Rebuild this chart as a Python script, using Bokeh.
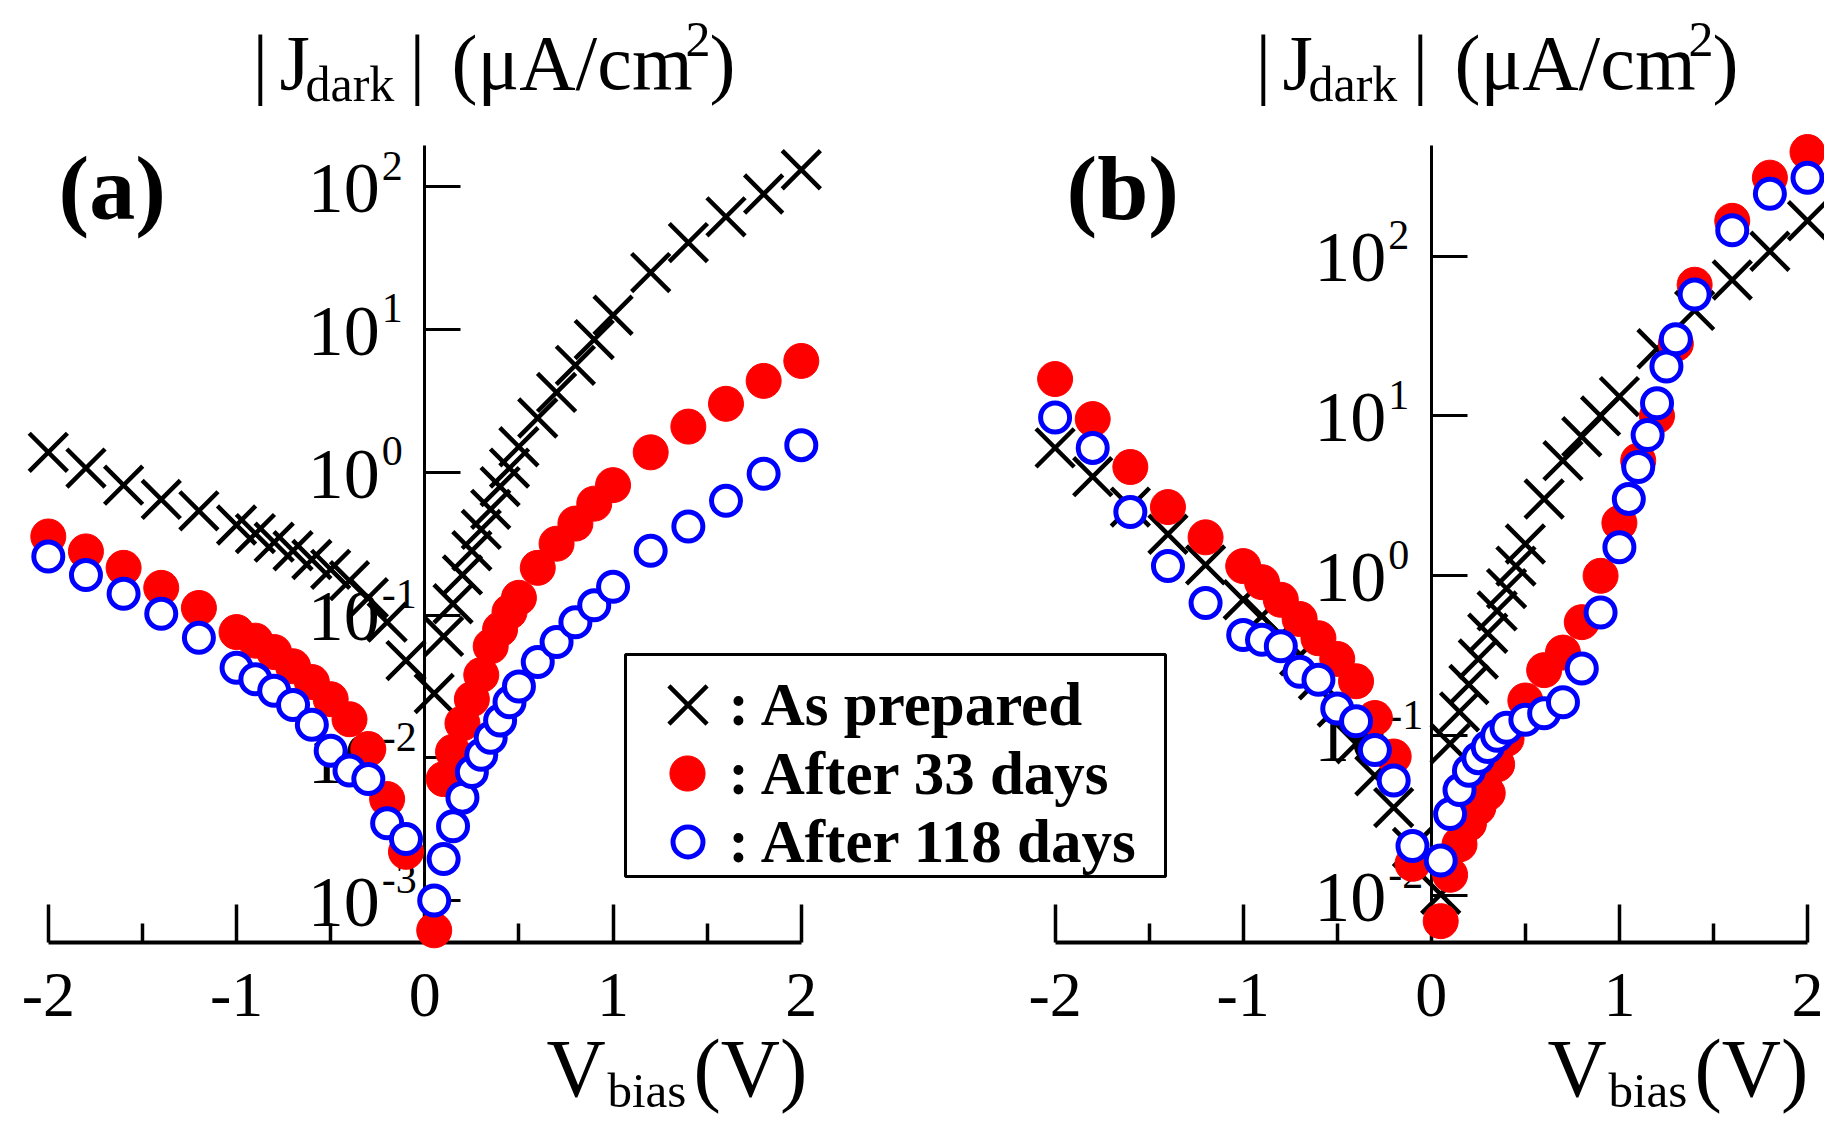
from bokeh.plotting import figure
from bokeh.models import (Range1d, LinearAxis, LogAxis, FixedTicker, Label, Legend,
                          LegendItem, CustomJSTickFormatter, BoxAnnotation)
from bokeh.core.properties import value
from bokeh.embed import file_html
from bokeh.resources import INLINE

# ---------------- data (|J_dark| in uA/cm^2 vs V_bias in V) ----------------
v_left = [-2.0, -1.8, -1.6, -1.4, -1.2, -1.0, -0.9, -0.8, -0.7, -0.6, -0.5, -0.4, -0.3, -0.2, -0.1]

# panel (a)
a_bias = v_left + [0.05, 0.1, 0.15, 0.2, 0.25, 0.3, 0.35, 0.4, 0.45, 0.5,
                   0.6, 0.7, 0.8, 0.9, 1.0, 1.2, 1.4, 1.6, 1.8, 2.0]
a_prepared = [1.38, 1.07, 0.813, 0.646, 0.537, 0.427, 0.372, 0.324, 0.282, 0.245,
              0.209, 0.174, 0.132, 0.0891, 0.0479,
              0.0282, 0.0708, 0.120, 0.191, 0.282, 0.398, 0.550, 0.794, 1.07, 1.51,
              2.40, 3.63, 5.62, 8.51, 12.6, 25.1, 40.7, 61.7, 89.1, 132]
a_33days = [0.355, 0.279, 0.214, 0.155, 0.112, 0.0759, 0.0661, 0.0550, 0.0437, 0.0339,
            0.0257, 0.0186, 0.0115, 0.00513, 0.00219,
            0.000617, 0.00708, 0.0110, 0.0174, 0.0257, 0.0380, 0.0603, 0.0794, 0.105, 0.132,
            0.214, 0.316, 0.437, 0.603, 0.813, 1.38, 2.09, 3.02, 4.37, 6.03]
a_118days = [0.257, 0.191, 0.141, 0.102, 0.0692, 0.0427, 0.0355, 0.0295, 0.0234, 0.0170,
             0.0112, 0.00813, 0.00708, 0.00347, 0.00269,
             0.00100, 0.00195, 0.00331, 0.00525, 0.00794, 0.0105, 0.0138, 0.0182, 0.0245, 0.0316,
             0.0468, 0.0646, 0.0891, 0.117, 0.158, 0.282, 0.417, 0.631, 0.977, 1.55]

# panel (b)
b_prepared_bias = v_left + [0.05, 0.1, 0.15, 0.2, 0.25, 0.3, 0.35, 0.4, 0.45, 0.5,
                            0.6, 0.7, 0.8, 0.9, 1.0, 1.2, 1.4, 1.6, 1.8, 2.0]
b_prepared = [6.31, 4.17, 2.69, 1.82, 1.17, 0.708, 0.562, 0.427, 0.316, 0.224,
              0.151, 0.0891, 0.0562, 0.0355, 0.0200,
              0.0102, 0.0891, 0.141, 0.209, 0.302, 0.437, 0.603, 0.832, 1.15, 1.58,
              3.02, 5.25, 7.41, 10.0, 13.2, 26.3, 45.7, 70.8, 107, 166]
b_33days_bias = v_left + [0.05, 0.1, 0.15, 0.2, 0.25, 0.3, 0.35, 0.4, 0.5, 0.6, 0.7,
                          0.8, 0.9, 1.0, 1.1, 1.2, 1.3, 1.4, 1.6, 1.8, 2.0]
b_33days = [17.0, 9.55, 4.79, 2.69, 1.74, 1.15, 0.912, 0.708, 0.537, 0.407,
            0.302, 0.219, 0.129, 0.0741, 0.0158,
            0.00692, 0.0135, 0.0209, 0.0282, 0.0355, 0.0437, 0.0661, 0.0955, 0.166, 0.257,
            0.331, 0.513, 1.00, 2.14, 5.25, 10.0, 28.2, 66.1, 166, 309, 447]
b_118days_bias = v_left + [0.05, 0.1, 0.15, 0.2, 0.25, 0.3, 0.35, 0.4, 0.5, 0.6, 0.7, 0.8,
                           0.9, 1.0, 1.05, 1.1, 1.15, 1.2, 1.25, 1.3, 1.4, 1.6, 1.8, 2.0]
b_118days = [9.77, 6.31, 2.51, 1.15, 0.676, 0.427, 0.398, 0.363, 0.251, 0.224,
             0.148, 0.123, 0.0813, 0.0525, 0.0204,
             0.0166, 0.0324, 0.0457, 0.0603, 0.0724, 0.0851, 0.100, 0.112, 0.126, 0.138,
             0.162, 0.263, 0.589, 1.51, 3.02, 4.79, 7.59, 12.0, 20.4, 30.2, 57.5, 145, 245, 309]

x_ticks = [-2, -1, 0, 1, 2]
x_tick_labels = ["-2", "-1", "0", "1", "2"]
x_minor_ticks = [-1.5, -0.5, 0.5, 1.5]
ya_ticks = [100, 10, 1, 0.1, 0.01, 0.001]
ya_exponents = ["2", "1", "0", "-1", "-2", "-3"]
yb_ticks = [100, 10, 1, 0.1, 0.01]
yb_exponents = ["2", "1", "0", "-1", "-2"]
legend_labels = [": As prepared", ": After 33 days", ": After 118 days"]

# ---------------- layout (screenshot pixels) ----------------
W, H = 1824, 1120
OFF = 0
ML, MB = 0, 0
FL, FR, FT, FB = OFF + ML, OFF + W, OFF, OFF + H - MB
FONT = "Liberation Serif"
BL = 0.3375  # alphabetic-baseline correction (fraction of font size)

PA = dict(x0=424.3, sx=188.25, y2=186.4, dy=142.7, title=252, vlab=546)
PB = dict(x0=1430.8, sx=188.1, y2=255.5, dy=159.9, title=1255, vlab=1547)
AXIS_Y = 941.5
YAXIS_TOP = 145


def xr(g):
    return Range1d((FL - g["x0"]) / g["sx"], (FR - g["x0"]) / g["sx"])


def ydat(g, py):
    return 10 ** (2 - (py - g["y2"]) / g["dy"])


def yr(g):
    return Range1d(ydat(g, FB), ydat(g, FT))


p = figure(width=W, height=H, x_range=xr(PA), y_range=yr(PA), y_axis_type="log",
           output_backend="svg", toolbar_location=None,
           min_border_left=ML, min_border_right=0, min_border_top=0, min_border_bottom=MB,
           background_fill_color="white", border_fill_color="white")
p.outline_line_color = None
p.extra_x_ranges = {"xb": xr(PB)}
p.extra_y_ranges = {"yb": yr(PB)}
p.xgrid.visible = False
p.ygrid.visible = False

blank = CustomJSTickFormatter(code="return ''")

xa_axis = p.xaxis[0]
ya_axis = p.yaxis[0]
xb_axis = LinearAxis(x_range_name="xb", y_range_name="yb")
yb_axis = LogAxis(x_range_name="xb", y_range_name="yb")
p.add_layout(xb_axis, "below")
p.add_layout(yb_axis, "left")

for ax, g in ((xa_axis, PA), (xb_axis, PB)):
    ax.ticker = FixedTicker(ticks=x_ticks, minor_ticks=x_minor_ticks)
    ax.formatter = blank
    ax.bounds = (-2, 2)
    ax.fixed_location = ydat(g, AXIS_Y)
    ax.axis_line_width = 4
    ax.axis_line_color = "black"
    ax.major_tick_in = 38
    ax.major_tick_out = 0
    ax.minor_tick_in = 19
    ax.minor_tick_out = 0
    ax.major_tick_line_width = 3.5
    ax.minor_tick_line_width = 3.5
    ax.major_tick_line_color = "black"
    ax.minor_tick_line_color = "black"
    ax.major_label_text_font_size = "0px"
    ax.major_label_standoff = 0

for ax, g, ticks in ((ya_axis, PA, ya_ticks), (yb_axis, PB, yb_ticks)):
    ax.ticker = FixedTicker(ticks=ticks, minor_ticks=[])
    ax.formatter = blank
    ax.bounds = (ydat(g, AXIS_Y), ydat(g, YAXIS_TOP))
    ax.fixed_location = 0
    ax.axis_line_width = 3
    ax.axis_line_color = "black"
    ax.major_tick_in = 36
    ax.major_tick_out = 0
    ax.minor_tick_in = 0
    ax.minor_tick_out = 0
    ax.major_tick_line_width = 3
    ax.major_tick_line_color = "black"
    ax.major_label_text_font_size = "0px"
    ax.major_label_standoff = 0

# ---------------- tick labels (drawn under the markers) ----------------
for g, rx, ry, ticks, exps in ((PA, "default", "default", ya_ticks, ya_exponents),
                               (PB, "xb", "yb", yb_ticks, yb_exponents)):
    n = len(ticks)
    p.text(x=[0] * n, y=ticks, text=["10"] * n, x_range_name=rx, y_range_name=ry,
           text_font=value(FONT), text_font_size="72px", text_color="black",
           text_align="right", text_baseline="alphabetic", x_offset=-45,
           y_offset=26 - BL * 72)
    p.text(x=[0] * n, y=ticks, text=exps, x_range_name=rx, y_range_name=ry,
           text_font=value(FONT), text_font_size="42px", text_color="black",
           text_align="left", text_baseline="alphabetic", x_offset=-43,
           y_offset=-7 - BL * 42)
    p.text(x=x_ticks, y=[ydat(g, AXIS_Y)] * len(x_ticks), text=x_tick_labels,
           x_range_name=rx, y_range_name=ry,
           text_font=value(FONT), text_font_size="64px", text_color="black",
           text_align="center", text_baseline="alphabetic", y_offset=75 - BL * 64)

# ---------------- markers ----------------
BLACK, RED, BLUE = "#000000", "#ff0000", "#0000ff"
X_SIZE, RED_SIZE, BLUE_SIZE = 54, 35, 29
r_prep_a = p.scatter(a_bias, a_prepared, marker="x", size=X_SIZE, line_color=BLACK,
                     line_width=4.5, level="overlay")
r_prep_b = p.scatter(b_prepared_bias, b_prepared, marker="x", size=X_SIZE, line_color=BLACK,
                     line_width=4.5, level="overlay", x_range_name="xb", y_range_name="yb")
r_33_a = p.scatter(a_bias, a_33days, marker="circle", size=RED_SIZE, fill_color=RED,
                   line_color=RED, line_width=1, level="overlay")
r_33_b = p.scatter(b_33days_bias, b_33days, marker="circle", size=RED_SIZE, fill_color=RED,
                   line_color=RED, line_width=1, level="overlay",
                   x_range_name="xb", y_range_name="yb")
r_118_a = p.scatter(a_bias, a_118days, marker="circle", size=BLUE_SIZE, fill_color="white",
                    line_color=BLUE, line_width=5, level="overlay")
r_118_b = p.scatter(b_118days_bias, b_118days, marker="circle", size=BLUE_SIZE,
                    fill_color="white", line_color=BLUE, line_width=5, level="overlay",
                    x_range_name="xb", y_range_name="yb")

# ---------------- texts ----------------

def lab(text, wx, wy, size, bold=False):
    p.add_layout(Label(x=wx - FL, y=FB - wy + BL * size, x_units="screen", y_units="screen",
                       text=text, text_font=FONT, text_font_size=f"{size}px",
                       text_font_style="bold" if bold else "normal",
                       text_color="black", text_align="left", text_baseline="alphabetic"))


for g, tag, tagx in ((PA, "(a)", 58), (PB, "(b)", 1066)):
    t = g["title"]
    lab("|", t, 88, 78)
    lab("J", t + 27, 88, 78)
    lab("dark", t + 53, 100, 50)
    lab("|", t + 157, 88, 78)
    lab("(\u03bcA/cm", t + 199, 88, 78)
    lab("2", t + 433, 56, 50)
    lab(")", t + 457, 88, 78)
    v = g["vlab"]
    lab("V", v, 1096, 82)
    lab("bias", v + 61, 1107, 49)
    lab("(V)", v + 147, 1096, 82)
    lab(tag, tagx, 219, 92, bold=True)

# ---------------- legend: frame box, one glyph legend per entry, texts ----------------
LEG_L, LEG_R, LEG_T, LEG_B = 625, 1165, 654, 876
LEG_MX, LEG_TX = 687, 728
LEG_ROWS = [704, 773, 841]
p.add_layout(BoxAnnotation(left=LEG_L - FL, right=LEG_R - FL, top=FB - LEG_T, bottom=FB - LEG_B,
                           left_units="screen", right_units="screen",
                           top_units="screen", bottom_units="screen",
                           fill_color="white", fill_alpha=1.0,
                           line_color="black", line_alpha=1.0, line_width=3))
for r, msize, row in ((r_prep_a, X_SIZE, LEG_ROWS[0]), (r_33_a, RED_SIZE, LEG_ROWS[1]),
                      (r_118_a, BLUE_SIZE + 1, LEG_ROWS[2])):
    gsz = int(round(msize / 0.4))
    p.add_layout(Legend(items=[LegendItem(label=" ", renderers=[r])],
                        location=(LEG_MX - gsz / 2 - FL, FB - (row + gsz / 2)),
                        glyph_width=gsz, glyph_height=gsz, padding=0, margin=0, spacing=0,
                        label_standoff=0, label_width=1, label_height=1,
                        label_text_font_size="1px",
                        border_line_color=None, background_fill_alpha=0.0))
for text, row in zip(legend_labels, LEG_ROWS):
    lab(text, LEG_TX, row + BL * 61, 61, bold=True)

open("out.html", "w").write(file_html(p, INLINE))
